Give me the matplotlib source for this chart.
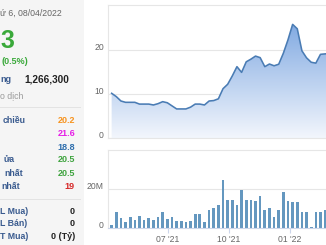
import matplotlib
matplotlib.use("Agg")
import matplotlib.pyplot as plt
import matplotlib.dates as mdates
from matplotlib.transforms import ScaledTranslation
from matplotlib.patches import Rectangle
import numpy as np
import pandas as pd

plt.rcParams['font.family'] = ['Liberation Sans', 'DejaVu Sans']

# ---------------- data ----------------
start_date = "2021-04-07"
price = [10.15, 9.4, 8.4, 8.1, 8.1, 8.1, 7.7, 7.7, 7.7, 7.5, 7.8, 8.25, 8.0, 7.3,
         6.6, 6.6, 6.6, 7.0, 7.7, 7.7, 7.5, 8.4, 8.5, 8.9, 11.2, 12.2, 14.1, 16.2,
         14.9, 17.3, 17.9, 18.6, 18.25, 16.2, 16.8, 16.4, 16.75, 19.25, 22.3, 25.8,
         24.8, 19.8, 18.2, 17.2, 17.0, 19.0, 19.1, 19.2]
volume_m = [1.4, 8.0, 4.9, 2.9, 5.4, 3.9, 6.4, 3.9, 5.1, 4.2, 5.8, 8.3, 4.6, 5.4,
            3.7, 3.6, 2.9, 3.6, 7.1, 7.1, 3.2, 9.0, 10.2, 11.7, 24.6, 14.6, 14.6, 11.7,
            19.5, 14.2, 14.6, 13.7, 16.4, 9.3, 10.2, 5.4, 9.3, 18.5, 14.1, 13.1,
            13.4, 8.3, 8.3, 0.7, 8.3, 8.3, 9.0, 9.0]
x_ticks = ["2021-07-01", "2021-10-01", "2022-01-01"]
x_tick_labels = ["07 '21", "10 '21", "01 '22"]
price_ticks = [0, 10, 20]
vol_ticks = [0, 20e6]
vol_tick_labels = ["0", "20M"]

# visible text of the (cropped) info panel
date_text = "ứ 6, 08/04/2022"
last_price = "3"
change_text = "(0.5%)"
vol_label = "ng"
vol_value = "1,266,300"
value_label = "o dịch"
row_labels = ["chiều", "", "", "ửa", "nhất", "nhất"]
row_values = ["20.2", "21.6", "18.8", "20.5", "20.5", "19"]
row_colors = ["#f7931e", "#e61ee6", "#2f6ead", "#3ea33e", "#3ea33e", "#d62828"]
foreign_labels = ["L Mua)", "L Bán)", "T Mua)"]
foreign_values = ["0", "0", "0 (Tỷ)"]

# ---------------- figure ----------------
W, H = 326, 245
fig = plt.figure(figsize=(W / 100, H / 100), dpi=100)
fig.patch.set_facecolor("white")


def fx(x):
    return x / W


def fy(y):
    return 1 - y / H


# left info panel
fig.patches.append(Rectangle((0, 0), fx(84), 1, transform=fig.transFigure,
                             facecolor="#f5f5f5", edgecolor="none", zorder=0))
for yy in (107, 199):
    fig.add_artist(plt.Line2D([0, fx(80)], [fy(yy), fy(yy)], transform=fig.transFigure,
                              color="#e3e3e3", lw=0.7))

lab_col = "#3a5b8f"
fig.text(fx(0.5), fy(13), date_text, ha="left", va="center", fontsize=6.3, color="#666666")
fig.text(fx(0.0), fy(41), last_price, ha="left", va="center", fontsize=18,
         fontweight="bold", color="#3aa93a")
fig.text(fx(2), fy(62), change_text, ha="left", va="center", fontsize=6.5,
         fontweight="bold", color="#3aa93a")
fig.text(fx(0.5), fy(79), vol_label, ha="left", va="center", fontsize=6.5,
         fontweight="bold", color=lab_col)
fig.text(fx(69), fy(79), vol_value, ha="right", va="center", fontsize=7.2,
         fontweight="bold", color="#222222")
fig.text(fx(0.5), fy(96), value_label, ha="left", va="center", fontsize=6.3,
         color="#9a9a9a")

row_y = [120, 133, 147, 160, 173, 186]
row_start = [2.5, 0, 0, 3, 4.5, 1.5]
for lab, val, col, yy, xs in zip(row_labels, row_values, row_colors, row_y, row_start):
    if lab:
        fig.text(fx(xs), fy(yy), lab, ha="left", va="center", fontsize=6.3,
                 fontweight="bold", color=lab_col)
    fig.text(fx(75), fy(yy), val, ha="right", va="center", fontsize=6.5,
             fontweight="bold", color=col)

f_y = [211, 223, 236.5]
for lab, val, yy in zip(foreign_labels, foreign_values, f_y):
    fig.text(fx(0.5), fy(yy), lab, ha="left", va="center", fontsize=6.3,
             fontweight="bold", color=lab_col)
    fig.text(fx(75), fy(yy), val, ha="right", va="center", fontsize=6.5,
             fontweight="bold", color="#222222")

# ---------------- charts ----------------
dates = pd.date_range(start_date, periods=len(price), freq="7D")
xnum = mdates.date2num(dates)
x0 = mdates.date2num(pd.Timestamp("2021-04-01 12:00"))
x1 = mdates.date2num(pd.Timestamp("2022-04-10 14:00"))

left_px, right_px = 108, 356
ax_p = fig.add_axes([fx(left_px), fy(138), (right_px - left_px) / W, (138 - 5) / H])
ax_v = fig.add_axes([fx(left_px), fy(228), (right_px - left_px) / W, (228 - 150) / H])

grid_col = "#e6e6e6"
px_shift = ScaledTranslation(0, 3.5 / 100, fig.dpi_scale_trans)

for ax in (ax_p, ax_v):
    ax.set_facecolor("white")
    ax.set_xlim(x0, x1)
    for s in ax.spines.values():
        s.set_color(grid_col)
        s.set_linewidth(0.8)
    ax.yaxis.grid(True, color=grid_col, lw=0.8)
    ax.set_axisbelow(True)
    ax.tick_params(axis="y", length=0, labelsize=6.2, labelcolor="#666666", pad=2.9)

# price chart
ymax_p = 30.2
ax_p.set_ylim(0, ymax_p)
ax_p.set_yticks(price_ticks)
ax_p.set_yticklabels([str(t) for t in price_ticks])
ax_p.tick_params(axis="x", bottom=False, labelbottom=False)
for lab in ax_p.get_yticklabels():
    lab.set_transform(lab.get_transform() + px_shift)

poly = ax_p.fill_between(xnum, price, 0, color="none", lw=0)
top_c = np.array([0.44, 0.62, 0.87])
bot_c = np.array([0.95, 0.965, 0.99])
t = np.linspace(0, 1, 256)[:, None]
grad = (top_c[None, :] * t + bot_c[None, :] * (1 - t))[::-1]
grad = grad[:, None, :].repeat(2, axis=1)
im = ax_p.imshow(grad, extent=[x0, x1, 0, ymax_p], aspect="auto", origin="upper",
                 zorder=1, interpolation="bilinear")
path = poly.get_paths()[0]
im.set_clip_path(path, transform=ax_p.transData)
ax_p.plot(xnum, price, color="#4a7cb4", lw=1.15, zorder=3, solid_joinstyle="round")
ax_p.set_xlim(x0, x1)
ax_p.set_ylim(0, ymax_p)

# volume chart
ax_v.set_ylim(0, 40e6)
ax_v.bar(xnum, np.array(volume_m) * 1e6, width=4.0, color="#6497bf", zorder=2)
ax_v.set_yticks(vol_ticks)
ax_v.set_yticklabels(vol_tick_labels)
for lab in ax_v.get_yticklabels():
    lab.set_transform(lab.get_transform() + px_shift)
ax_v.set_xticks(mdates.date2num(pd.to_datetime(x_ticks)))
ax_v.set_xticklabels(x_tick_labels)
ax_v.tick_params(axis="x", direction="out", length=3.6, width=0.8, color="#ccd6eb",
                 labelsize=6.2, labelcolor="#666666", pad=1.5)
ax_v.spines["bottom"].set_color("#ccd6eb")

fig.savefig("out.png", dpi=100, facecolor="white")
